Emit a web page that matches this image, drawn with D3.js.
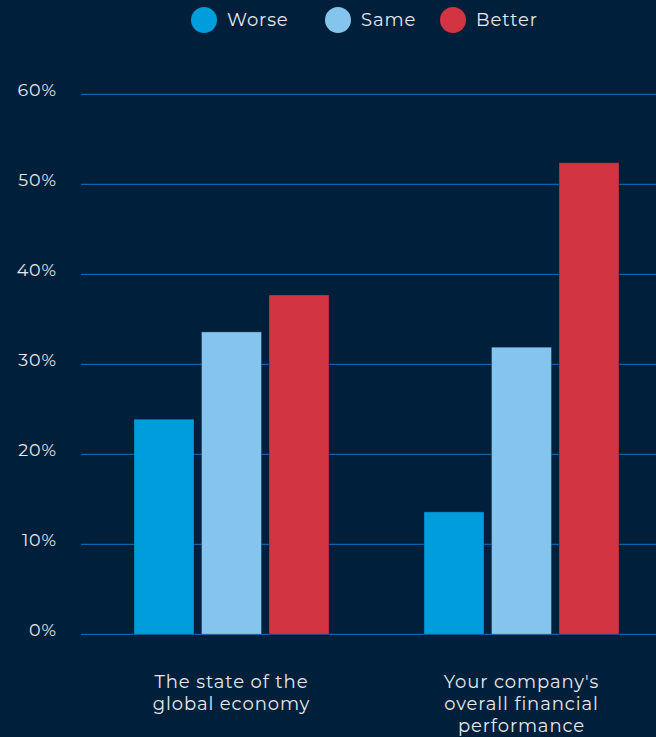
<!DOCTYPE html>
<html>
<head>
<meta charset="utf-8">
<script src="https://cdn.jsdelivr.net/npm/d3@7"></script>
<style>
  html, body { margin: 0; padding: 0; background: #001f3a; }
  svg { display: block; }
  text { font-family: "Montserrat", "Inter", "Lato", sans-serif; fill: #e6e9ee; letter-spacing: 0.9px; }
</style>
</head>
<body>
<svg id="chart" width="656" height="737"></svg>
<script>
// chart data
const categories = [["The state of the", "global economy"], ["Your company's", "overall financial", "performance"]];
const series = ["Worse", "Same", "Better"];
const colors = ["#009ddc", "#85c4ec", "#d23442"];
const worse = [23.9, 13.6];
const same = [33.6, 31.9];
const better = [37.7, 52.4];
const yTicks = [0, 10, 20, 30, 40, 50, 60];

const values = [worse, same, better];
const rows = categories.map((c, i) => ({ idx: i, label: c, vals: series.map((s, j) => ({ key: s, v: values[j][i], color: colors[j] })) }));

const svg = d3.select('#chart');
const margin = { left: 81, right: 0, top: 94, bottom: 103 };
const width = +svg.attr('width');
const height = +svg.attr('height');

const y = d3.scaleLinear().domain([0, 60]).range([height - margin.bottom + 0.3, margin.top + 0.3]);
const x0 = d3.scaleBand().domain(rows.map(d => d.idx)).range([86.5, 666.5]);
const x1 = d3.scaleBand().domain(series).range([47.5, 242.5]).paddingInner(0.111);

// gridlines
svg.append('g').selectAll('line')
  .data(yTicks).enter().append('line')
  .attr('x1', margin.left).attr('x2', width)
  .attr('y1', d => y(d)).attr('y2', d => y(d))
  .attr('stroke', '#0b62ad').attr('stroke-width', 1.2);

// y axis labels
svg.append('g').selectAll('text')
  .data(yTicks).enter().append('text')
  .attr('x', 57).attr('y', d => y(d)).attr('dy', '0.1em')
  .attr('text-anchor', 'end')
  .style('font-size', '17.5px')
  .text(d => d + '%');

// bars
const groups = svg.append('g').selectAll('g')
  .data(rows).enter().append('g')
  .attr('transform', d => `translate(${x0(d.idx)},0)`);

groups.selectAll('rect')
  .data(d => d.vals).enter().append('rect')
  .attr('x', d => x1(d.key))
  .attr('width', x1.bandwidth())
  .attr('y', d => y(d.v))
  .attr('height', d => y(0) - y(d.v))
  .attr('fill', d => d.color)
  .attr('stroke', 'rgba(0,31,58,0.35)')
  .attr('stroke-width', 1);

// category labels
groups.append('text')
  .attr('text-anchor', 'middle')
  .attr('x', 145)
  .style('font-size', '18px')
  .selectAll('tspan')
  .data(d => d.label).enter().append('tspan')
  .attr('x', 145)
  .attr('y', (d, i) => 688 + i * 22)
  .text(d => d);

// legend
const legendX = [204, 338, 453];
const legend = svg.append('g').selectAll('g')
  .data(series).enter().append('g')
  .attr('transform', (d, i) => `translate(${legendX[i]},20)`);
legend.append('circle').attr('r', 13).attr('fill', (d, i) => colors[i]);
legend.append('text')
  .attr('x', 23).attr('dy', '0.36em')
  .style('font-size', '18px')
  .text(d => d);
</script>
</body>
</html>
